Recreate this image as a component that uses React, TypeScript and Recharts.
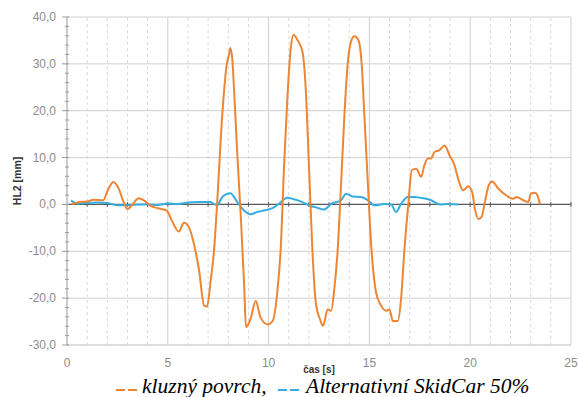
import { LineChart, Line, XAxis, YAxis, ReferenceLine } from "recharts";

// kluzný povrch (orange)
const kluznyT = [
  0.25, 0.6, 1.0, 1.3, 1.8, 2.0, 2.3, 2.55, 2.8, 3.0, 3.2, 3.55, 3.8, 4.15, 4.5, 4.95,
  5.15, 5.55, 5.8, 6.05, 6.3, 6.55, 6.8, 6.95, 7.12, 7.3, 7.45, 7.7, 7.92, 8.05, 8.1,
  8.2, 8.28, 8.45, 8.62, 8.78, 8.88, 9.1, 9.36, 9.6, 9.95, 10.2, 10.43, 10.6, 10.77,
  10.93, 11.1, 11.23, 11.43, 11.68, 11.84, 12.0, 12.17, 12.34, 12.55, 12.7, 12.93, 13.1,
  13.26, 13.43, 13.6, 13.76, 13.92, 14.09, 14.26, 14.45, 14.62, 14.75, 14.92, 15.08,
  15.33, 15.58, 15.83, 16.0, 16.16, 16.41, 16.57, 16.74, 16.94, 17.1, 17.32, 17.57,
  17.73, 17.9, 18.06, 18.23, 18.48, 18.73, 18.97, 19.22, 19.4, 19.65, 19.9, 20.1, 20.23,
  20.4, 20.56, 20.73, 20.92, 21.09, 21.39, 21.8, 22.13, 22.3, 22.63, 22.88, 23.01, 23.21,
  23.34, 23.46,
];
const kluznyHL2 = [
  0.0, 0.5, 0.6, 1.0, 0.9, 2.8, 4.8, 3.5, 0.6, -1.0, -0.3, 1.3, 0.9, -0.3, -0.8, -1.3,
  -3.0, -5.8, -3.9, -4.9, -8.5, -14.0, -21.6, -21.8, -16.5, -9.5, 0.5, 19.0, 29.8, 32.2, 33.4,
  31.0, 25.0, 10.5, -2.5, -16.5, -26.2, -24.5, -20.6, -24.1, -25.6, -24.9, -18.8, -9.5, 8.4,
  22.6, 33.4, 36.2, 35.1, 32.6, 24.8, 8.4, -9.5, -20.9, -24.5, -25.9, -22.4, -22.7,
  -18.0, -9.5, 4.8, 19.0, 29.8, 34.8, 35.9, 35.1, 29.8, 19.0, 4.8, -8.1,
  -18.8, -21.6, -22.7, -22.4, -24.9, -24.9, -20.2, -9.5, 0.5, 7.3, 7.6, 5.9,
  8.4, 9.8, 9.8, 11.2, 11.6, 12.6, 10.5, 8.4, 5.5, 3.0, 3.9, 2.6, -0.9,
  -3.1, -2.7, 0.5, 4.1, 4.9, 3.4, 1.9, 1.2, 1.6, 0.9, 0.5, 2.3, 2.5,
  1.9, 0.0,
];

// Alternativní SkidCar 50% (blue)
const skidcarT = [
  0.2, 0.5, 1.0, 1.5, 2.0, 2.5, 3.0, 3.5, 4.0, 4.5, 5.0, 5.5, 6.0, 6.5, 7.1, 7.45, 7.7,
  8.1, 8.45, 8.78, 9.1, 9.44, 9.77, 10.19, 10.5, 10.93, 11.26, 11.68, 12.0, 12.34, 12.75,
  13.1, 13.6, 13.84, 14.17, 14.59, 14.92, 15.25, 15.75, 16.08, 16.32, 16.57, 16.9, 17.24,
  17.57, 18.06, 18.48, 18.9, 19.4,
];
const skidcarHL2 = [
  0.8, 0.2, 0.3, 0.4, 0.3, -0.2, -0.2, 0.0, 0.0, -0.1, 0.2, 0.1, 0.4, 0.5, 0.5, -0.2, 1.6,
  2.4, 0.5, -1.3, -2.1, -1.6, -1.3, -0.8, 0.1, 1.4, 1.1, 0.5, -0.2, -0.6, -1.1,
  0.1, 0.9, 2.3, 1.7, 1.6, 0.9, -0.2, 0.1, 0.0, -1.6, 0.1, 1.6, 1.6,
  1.4, 0.9, 0.0, 0.1, 0.0,
];

const xTicks = [0, 5, 10, 15, 20, 25];
const xMinor = [1, 2, 3, 4, 6, 7, 8, 9, 11, 12, 13, 14, 16, 17, 18, 19, 21, 22, 23, 24];
const yMajor = [-30, -20, -10, 0, 10, 20, 30, 40];
const yTicks = [
  -30, -28, -26, -24, -22, -20, -18, -16, -14, -12, -10, -8, -6, -4, -2, 0, 2, 4, 6, 8,
  10, 12, 14, 16, 18, 20, 22, 24, 26, 28, 30, 32, 34, 36, 38, 40,
];

const kluzny = kluznyT.map((t, i) => ({ t, v: kluznyHL2[i] }));
const skidcar = skidcarT.map((t, i) => ({ t, v: skidcarHL2[i] }));

const ORANGE = "#ED8534";
const BLUE = "#35ADE0";
const fmt = (v: number) => v.toFixed(1).replace(".", ",");

const YTick = ({ x, y, payload }: any) => {
  const ax = x + 11;
  const major = payload.value % 10 === 0;
  return (
    <g>
      <line x1={major ? ax - 5 : ax - 2} x2={ax + 2} y1={y} y2={y} stroke="#9a9a9a" />
      {major && (
        <text x={x} y={y} dy={4} textAnchor="end" fontSize={12} fill="#8c8c8c">
          {fmt(payload.value)}
        </text>
      )}
    </g>
  );
};

const legendText = {
  position: "absolute" as const,
  top: 375,
  lineHeight: "22px",
  fontFamily: "'Times New Roman', 'Liberation Serif', 'DejaVu Serif', serif",
  fontStyle: "italic",
  fontSize: 21.5,
  whiteSpace: "nowrap" as const,
  color: "#000",
};

const Dash = ({ left, color }: { left: number; color: string }) => (
  <div
    style={{ position: "absolute", left, top: 389, width: 9, height: 2, background: color }}
  />
);

const App = () => {
  return (
    <div
      style={{
        position: "absolute",
        left: 0,
        top: 0,
        width: 580,
        height: 397,
        overflow: "hidden",
        background: "#fff",
        fontFamily: "'Liberation Sans', Arial, sans-serif",
      }}
    >
      <LineChart
        width={580}
        height={380}
        margin={{ top: 17, right: 9, left: 0, bottom: 0 }}
      >
        <XAxis
          dataKey="t"
          type="number"
          domain={[0, 25]}
          ticks={xTicks}
          allowDataOverflow
          height={35}
          tickLine={false}
          tickSize={0}
          tickMargin={13}
          axisLine={{ stroke: "#d4d4d4" }}
          tick={{ fontSize: 12, fill: "#8c8c8c" }}
          label={{
            content: ({ viewBox }: any) => (
              <text
                x={viewBox.x + viewBox.width / 2}
                y={373}
                textAnchor="middle"
                fontSize={10}
                fontWeight="bold"
                fill="#333"
              >
                čas [s]
              </text>
            ),
          }}
        />
        <YAxis
          type="number"
          domain={[-30, 40]}
          ticks={yTicks}
          interval={0}
          width={67}
          tickSize={0}
          tickMargin={11}
          tickLine={false}
          axisLine={{ stroke: "#9a9a9a" }}
          tick={<YTick />}
          label={{
            content: () => (
              <text
                x={21}
                y={181}
                transform="rotate(-90 21 181)"
                textAnchor="middle"
                fontSize={10.5}
                fontWeight="bold"
                fill="#333"
              >
                HL2 [mm]
              </text>
            ),
          }}
        />
        {xMinor.map((x) => (
          <ReferenceLine key={`vm${x}`} x={x} stroke="#d9d9d9" strokeDasharray="3 3" />
        ))}
        {xTicks.slice(1).map((x) => (
          <ReferenceLine key={`vM${x}`} x={x} stroke="#d0d0d0" />
        ))}
        {yMajor
          .filter((y) => y !== 0)
          .map((y) => (
            <ReferenceLine key={`h${y}`} y={y} stroke="#d0d0d0" />
          ))}
        <ReferenceLine y={0} stroke="#5a5a5a" strokeWidth={1.3} />
        {[...xMinor, ...xTicks.slice(1)].map((x) => (
          <ReferenceLine
            key={`zt${x}`}
            segment={[
              { x, y: -0.5 },
              { x, y: 0.5 },
            ]}
            stroke="#5a5a5a"
          />
        ))}
        <Line
          data={skidcar}
          dataKey="v"
          type="monotone"
          stroke={BLUE}
          strokeWidth={2}
          dot={false}
          isAnimationActive={false}
        />
        <Line
          data={kluzny}
          dataKey="v"
          type="monotone"
          stroke={ORANGE}
          strokeWidth={2}
          dot={false}
          isAnimationActive={false}
        />
      </LineChart>
      <Dash left={116} color={ORANGE} />
      <Dash left={128} color={ORANGE} />
      <div style={{ ...legendText, left: 142 }}>kluzný povrch,</div>
      <Dash left={278} color={BLUE} />
      <Dash left={290} color={BLUE} />
      <div style={{ ...legendText, left: 306 }}>Alternativní SkidCar 50%</div>
    </div>
  );
};

export default App;
